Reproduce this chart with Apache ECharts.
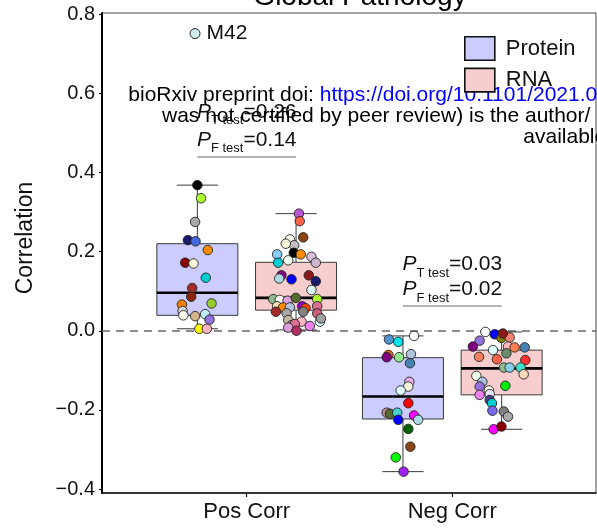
<!DOCTYPE html>
<html>
<head>
<meta charset="utf-8">
<script src="https://cdn.jsdelivr.net/npm/echarts@6/dist/echarts.min.js"></script>
<style>
  html, body { margin: 0; padding: 0; background: #fff; }
  #chart { width: 597px; height: 531px; }
</style>
</head>
<body>
<div id="chart"></div>
<script>
// ---- data ----
const groups = ['Pos Corr', 'Neg Corr'];
const yTicks = [-0.4, -0.2, 0, 0.2, 0.4, 0.6, 0.8];

// box summaries per group: [lower whisker, Q1, median, Q3, upper whisker]
const proteinStats = [[0.005, 0.039, 0.096, 0.220, 0.368], [-0.356, -0.223, -0.166, -0.068, -0.013]];
const rnaStats = [[0.002, 0.052, 0.083, 0.173, 0.296], [-0.249, -0.162, -0.095, -0.049, -0.003]];

// module correlations (one point per module), horizontal jitter and module colour
const proteinPosVals = [0.368, 0.335, 0.275, 0.229, 0.226, 0.204, 0.172, 0.170, 0.134, 0.108, 0.086, 0.066, 0.069, 0.050, 0.039, 0.037, 0.042, 0.028, 0.005, 0.005];
const proteinPosJitter = [0.000, 0.018, -0.011, -0.046, -0.009, 0.051, -0.059, -0.019, 0.041, -0.025, -0.030, -0.075, 0.069, -0.072, -0.068, -0.011, 0.038, 0.059, 0.010, 0.046];
const proteinPosColors = ['#000000', '#ADFF2F', '#A9A9A9', '#191970', '#4169E1', '#FF8C00', '#8B0000', '#FFFFE0', '#00CED1', '#A52A2A', '#8B2500', '#FF7F00', '#9ACD32', '#D3D3D3', '#FFFFF0', '#D2B48C', '#BFEFFF', '#9370DB', '#FFFF00', '#FFB6C1'];

const rnaPosVals = [0.296, 0.277, 0.236, 0.231, 0.216, 0.220, 0.197, 0.193, 0.193, 0.187, 0.178, 0.172, 0.172, 0.140, 0.132, 0.130, 0.140, 0.125, 0.103, 0.080, 0.078, 0.076, 0.083, 0.080, 0.062, 0.062, 0.059, 0.059, 0.057, 0.062, 0.048, 0.044, 0.048, 0.044, 0.027, 0.023, 0.023, 0.031, 0.014, 0.017, 0.008, 0.012, 0.000];
const rnaPosJitter = [0.014, 0.018, 0.035, -0.030, -0.009, -0.050, -0.011, 0.023, -0.092, 0.075, -0.038, -0.087, 0.096, -0.071, -0.082, -0.022, 0.062, 0.096, 0.075, -0.111, -0.079, -0.041, -0.001, 0.103, 0.030, -0.092, -0.063, -0.030, 0.046, 0.103, -0.098, -0.046, 0.035, 0.103, -0.038, 0.027, 0.116, 0.121, -0.022, -0.006, -0.038, 0.067, 0.002];
const rnaPosColors = ['#BA55D3', '#FF6347', '#8B4513', '#FFFFF0', '#C8BCC4', '#F5F5DC', '#000000', '#FF8C00', '#87CEFA', '#D8BFD8', '#F0FFF0', '#00CED1', '#CDB5CD', '#8B008B', '#ADD8E6', '#0000FF', '#8B1A1A', '#191970', '#E0FFFF', '#8FBC8F', '#FFFFFF', '#DDA0DD', '#556B2F', '#ADFF2F', '#9400D3', '#F5DEB3', '#FF8C00', '#B0C4DE', '#FF4500', '#DB7093', '#A52A2A', '#A9A9A9', '#808080', '#CD5C7A', '#C4B8A0', '#FFB6C1', '#E0FFFF', '#A0A0A0', '#BC8F8F', '#DB7093', '#DDA0DD', '#EE82EE', '#B03060'];

const proteinNegVals = [-0.013, -0.022, -0.028, -0.061, -0.067, -0.067, -0.059, -0.082, -0.129, -0.141, -0.151, -0.183, -0.207, -0.210, -0.207, -0.214, -0.225, -0.225, -0.248, -0.293, -0.320, -0.356];
const proteinNegJitter = [0.054, -0.068, -0.023, -0.071, -0.079, -0.019, 0.039, 0.034, 0.031, 0.026, -0.011, 0.026, -0.079, -0.063, -0.028, 0.054, 0.074, -0.023, 0.026, 0.036, -0.035, 0.003];
const proteinNegColors = ['#FFFFFF', '#4F94CD', '#00E5EE', '#D2691E', '#800080', '#90EE90', '#B0C4DE', '#4682B4', '#EEAEEE', '#F5F5DC', '#E0FFFF', '#FF0000', '#BC8F8F', '#556B2F', '#48D1CC', '#FF00FF', '#ADD8E6', '#0000FF', '#006400', '#8B4513', '#00FF00', '#A020F0'];

const rnaNegVals = [-0.003, -0.009, -0.018, -0.017, -0.007, -0.040, -0.025, -0.040, -0.049, -0.057, -0.042, -0.042, -0.066, -0.072, -0.074, -0.093, -0.093, -0.093, -0.110, -0.114, -0.129, -0.139, -0.141, -0.151, -0.162, -0.160, -0.175, -0.183, -0.202, -0.204, -0.217, -0.249, -0.242];
const rnaNegJitter = [-0.079, -0.034, -0.001, 0.039, 0.006, 0.031, -0.107, -0.140, -0.042, 0.023, 0.063, 0.112, -0.110, -0.023, 0.115, 0.011, 0.039, 0.092, 0.107, -0.123, -0.094, 0.018, -0.107, -0.062, -0.107, -0.058, -0.058, -0.047, -0.045, 0.010, 0.031, -0.039, -0.001];
const rnaNegColors = ['#FFFFFF', '#0000FF', '#808000', '#FA8072', '#8B1A1A', '#FFB6C1', '#9370DB', '#800080', '#E0FFFF', '#698B69', '#FF7F50', '#4682B4', '#F08060', '#FF6347', '#FF3030', '#8FBC8F', '#87CEEB', '#40E0D0', '#FFDAB9', '#F0FFF0', '#B0C4DE', '#00EE00', '#9370DB', '#FFFFF0', '#EE82EE', '#E6E6FA', '#483D8B', '#00CED1', '#7B68EE', '#808080', '#A9A9A9', '#FF00FF', '#8B0000'];

// highlighted module
const highlightName = 'M42';
const highlightPoint = [0.7485, 0.751];

// test results per group
const pTtest = ['0.26', '0.03'];
const pFtest = ['0.14', '0.02'];
const pTbaseline = [0.534, 0.149];
const pFbaseline = [0.464, 0.086];
const bracketY = [0.439, 0.063];

// ---- styling ----
const FONT = '"Liberation Sans", Arial, Helvetica, sans-serif';
const PROTEIN_FILL = '#CCCCFF';
const RNA_FILL = '#F8CDCD';
const EDGE = '#3a3a3a';
const DODGE = 0.24;
const BOX_W = 0.394;
const CAP_W = 0.2;

function boxData(stats, shift) {
  return stats.map((s, i) => [i + 1 + shift].concat(s));
}

function renderBox(fill) {
  return function (params, api) {
    const x = api.value(0);
    const lo = api.value(1), q1 = api.value(2), md = api.value(3), q3 = api.value(4), hi = api.value(5);
    const tl = api.coord([x - BOX_W / 2, q3]);
    const br = api.coord([x + BOX_W / 2, q1]);
    const seg = (p, q, w, col) => ({
      type: 'line',
      shape: { x1: p[0], y1: p[1], x2: q[0], y2: q[1] },
      style: { stroke: col, lineWidth: w }
    });
    return {
      type: 'group',
      children: [
        seg(api.coord([x, hi]), api.coord([x, q3]), 1, EDGE),
        seg(api.coord([x, q1]), api.coord([x, lo]), 1, EDGE),
        seg(api.coord([x - CAP_W / 2, hi]), api.coord([x + CAP_W / 2, hi]), 1, EDGE),
        seg(api.coord([x - CAP_W / 2, lo]), api.coord([x + CAP_W / 2, lo]), 1, EDGE),
        {
          type: 'rect',
          shape: { x: tl[0], y: tl[1], width: br[0] - tl[0], height: br[1] - tl[1] },
          style: { fill: fill, stroke: EDGE, lineWidth: 1 }
        },
        seg(api.coord([x - BOX_W / 2, md]), api.coord([x + BOX_W / 2, md]), 2.6, '#000')
      ]
    };
  };
}

function pointData(sets, shift) {
  const out = [];
  sets.forEach((set, gi) => {
    set.vals.forEach((v, i) => {
      out.push({ value: [gi + 1 + shift + set.jitter[i], v], itemStyle: { color: set.colors[i] } });
    });
  });
  return out;
}

const chart = echarts.init(document.getElementById('chart'), null, { renderer: 'canvas' });

const option = {
  animation: false,
  backgroundColor: '#fff',
  textStyle: { fontFamily: FONT },
  grid: {
    left: 102, right: 1, top: 13, bottom: 38,
    show: true, borderColor: '#444', borderWidth: 1, backgroundColor: 'transparent'
  },
  xAxis: {
    type: 'value',
    min: 0.2962, max: 2.6989,
    splitLine: { show: false },
    axisLine: { show: true, onZero: false, lineStyle: { color: '#111', width: 1.6 } },
    axisTick: { show: true, customValues: [1, 2], length: 4, lineStyle: { color: '#111', width: 1.2 } },
    axisLabel: {
      customValues: [1, 2], margin: 8,
      formatter: v => groups[Math.round(v) - 1],
      color: '#111', fontSize: 22, fontFamily: FONT
    }
  },
  yAxis: {
    type: 'value',
    min: -0.41, max: 0.803,
    splitLine: { show: false },
    axisLine: { show: true, onZero: false, lineStyle: { color: '#000', width: 2 } },
    axisTick: { show: true, customValues: yTicks, length: 3, lineStyle: { color: '#111', width: 1.2 } },
    axisLabel: {
      customValues: yTicks, margin: 7,
      formatter: v => (v < 0 ? '\u2212' : '') + Math.abs(v).toFixed(1),
      color: '#111', fontSize: 20, fontFamily: FONT
    }
  },
  legend: {
    orient: 'vertical', left: 464, top: 36, padding: 0,
    itemWidth: 30, itemHeight: 23.5, itemGap: 6.5,
    textStyle: { fontSize: 22, color: '#111', fontFamily: FONT, padding: [0, 0, 0, 6] },
    itemStyle: { borderColor: '#111', borderWidth: 1.6 },
    data: [
      { name: 'Protein', icon: 'rect', itemStyle: { color: PROTEIN_FILL } },
      { name: 'RNA', icon: 'rect', itemStyle: { color: RNA_FILL } }
    ]
  },
  series: [
    {
      type: 'custom', name: 'Protein', z: 2,
      itemStyle: { color: PROTEIN_FILL },
      renderItem: renderBox(PROTEIN_FILL),
      encode: { x: 0, y: [1, 2, 3, 4, 5] },
      data: boxData(proteinStats, -DODGE),
      markLine: {
        silent: true, symbol: 'none', z: 1,
        label: { show: false },
        lineStyle: { type: [8, 6], color: '#666', width: 1.5 },
        data: [{ yAxis: 0 }]
      }
    },
    {
      type: 'custom', name: 'RNA', z: 2,
      itemStyle: { color: RNA_FILL },
      renderItem: renderBox(RNA_FILL),
      encode: { x: 0, y: [1, 2, 3, 4, 5] },
      data: boxData(rnaStats, DODGE),
      markLine: {
        silent: true, symbol: 'none',
        label: { show: false },
        lineStyle: { type: 'solid', color: '#9a9a9a', width: 1.5 },
        data: groups.map((g, i) => [
          { coord: [i + 1 - DODGE, bracketY[i]] },
          { coord: [i + 1 + DODGE, bracketY[i]] }
        ])
      }
    },
    {
      type: 'scatter', name: 'Protein modules', z: 3,
      symbolSize: 9.5,
      itemStyle: { borderColor: '#222', borderWidth: 0.9, opacity: 1 },
      data: pointData([
        { vals: proteinPosVals, jitter: proteinPosJitter, colors: proteinPosColors },
        { vals: proteinNegVals, jitter: proteinNegJitter, colors: proteinNegColors }
      ], -DODGE)
    },
    {
      type: 'scatter', name: 'RNA modules', z: 3,
      symbolSize: 9.5,
      itemStyle: { borderColor: '#222', borderWidth: 0.9, opacity: 1 },
      data: pointData([
        { vals: rnaPosVals, jitter: rnaPosJitter, colors: rnaPosColors },
        { vals: rnaNegVals, jitter: rnaNegJitter, colors: rnaNegColors }
      ], DODGE)
    },
    {
      type: 'scatter', name: highlightName, z: 3,
      symbolSize: 10,
      itemStyle: { color: '#D1EEEE', borderColor: '#222', borderWidth: 1, opacity: 1 },
      label: { show: true, position: 'right', distance: 6, formatter: highlightName, fontSize: 21, color: '#111', fontFamily: FONT },
      data: [highlightPoint]
    }
  ]
};

chart.setOption(option);

// ---- text annotations ----
const measureCtx = document.createElement('canvas').getContext('2d');
function textWidth(str, font) { measureCtx.font = font; return measureCtx.measureText(str).width; }

// text element placed by its baseline
function baseText(x, baseline, str, size, extra) {
  return Object.assign({
    type: 'text', x: x, y: baseline - 0.35 * size, silent: true,
    style: Object.assign({
      text: str, fontSize: size, fontFamily: FONT, fill: '#111',
      textAlign: 'left', textVerticalAlign: 'middle', align: 'left', verticalAlign: 'middle'
    }, extra || {})
  });
}

function pLabel(cx, baseline, sub, value) {
  const fP = 'italic 21px ' + FONT, fS = '13px ' + FONT, fN = '21px ' + FONT;
  const wP = textWidth('P', fP), wS = textWidth(sub, fS), wN = textWidth('=' + value, fN);
  const x0 = cx - (wP + wS + wN) / 2;
  return [
    baseText(x0, baseline, 'P', 21, { fontStyle: 'italic' }),
    baseText(x0 + wP, baseline + 6, sub, 13),
    baseText(x0 + wP + wS, baseline, '=' + value, 21)
  ];
}

const elements = [];
groups.forEach((g, i) => {
  const t = chart.convertToPixel({ gridIndex: 0 }, [i + 1, pTbaseline[i]]);
  const f = chart.convertToPixel({ gridIndex: 0 }, [i + 1, pFbaseline[i]]);
  elements.push(...pLabel(t[0], t[1], 'T test', pTtest[i]));
  elements.push(...pLabel(f[0], f[1], 'F test', pFtest[i]));
});

// preprint header overlay
const headFont = '21px ' + FONT;
const headLead = 'bioRxiv preprint doi: ';
elements.push(baseText(128.3, 103, headLead, 21, { fill: '#000' }));
elements.push(baseText(128.3 + textWidth(headLead, headFont), 103, 'https://doi.org/10.1101/2021.0', 21, { fill: '#0000FF' }));
elements.push(baseText(162, 124, 'was not certified by peer review) is the author/', 21, { fill: '#000' }));
elements.push(baseText(523.3, 145, 'available', 21, { fill: '#000' }));

// title (partly above the canvas) and y-axis title
elements.push(baseText(360, 7, 'Global Pathology', 28, { fill: '#000', textAlign: 'center', align: 'center' }));
elements.push({
  type: 'text', x: 26, y: 238, rotation: Math.PI / 2, silent: true,
  style: {
    text: 'Correlation', fontSize: 23, fontFamily: FONT, fill: '#111',
    textAlign: 'center', textVerticalAlign: 'middle', align: 'center', verticalAlign: 'middle'
  }
});

chart.setOption({ graphic: { elements: elements } });
</script>
</body>
</html>
